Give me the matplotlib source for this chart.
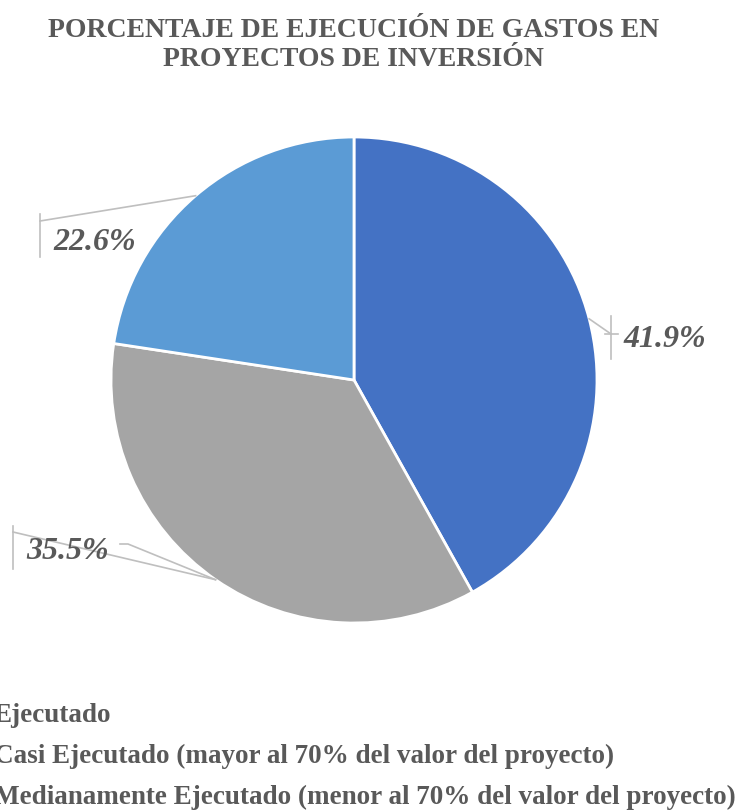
import numpy as np
import matplotlib.pyplot as plt

plt.rcParams['font.family'] = ['Liberation Serif', 'DejaVu Serif']

categories = ['Ejecutado',
              'Casi Ejecutado (mayor al 70% del valor del proyecto)',
              'Medianamente Ejecutado (menor al 70% del valor del proyecto)']
values = [41.9, 35.5, 22.6]
colors = ['#4472C4', '#A5A5A5', '#5B9BD5']
label_txt = ['41.9%', '35.5%', '22.6%']
title = 'PORCENTAJE DE EJECUCIÓN DE GASTOS EN\nPROYECTOS DE INVERSIÓN'

W, H = 747, 812
cx, cy, R = 354, 381, 243   # pie centre and radius in pixels

fig = plt.figure(figsize=(W / 100, H / 100), dpi=100)
ax = fig.add_axes([0, 0, 1, 1])

def px(x, y):
    return (x - cx) / R, (cy - y) / R

wedges, _ = ax.pie(values, colors=colors, startangle=90, counterclock=False,
                   radius=1, wedgeprops=dict(edgecolor='white', linewidth=2))
ax.set_aspect('auto')
ax.set_xlim(-cx / R, (W - cx) / R)
ax.set_ylim((cy - H) / R, cy / R)
ax.axis('off')

grey = '#595959'
lc = '#BFBFBF'
# label centres (px) and bracket x (px), bracket top/bottom (px)
lab_pos = [(665, 340), (68, 552), (95, 242)]
bar_x = [611, 13, 40]
bar_y = [(317, 360), (527, 570), (215, 258)]
join_y = [335, 533, 222]

for w, t, (lx, ly), bx, (by0, by1), jy in zip(wedges, label_txt, lab_pos, bar_x, bar_y, join_y):
    ang = np.deg2rad((w.theta1 + w.theta2) / 2)
    ex, ey = np.cos(ang), np.sin(ang)
    ax.plot(*zip(px(bx, by0), px(bx, by1)), color=lc, lw=1.2)
    ax.plot(*zip(px(bx, jy), (ex, ey)), color=lc, lw=1.2)
    ax.text(*px(lx, ly), t, ha='center', va='center', fontsize=23,
            fontweight='bold', fontstyle='italic', color=grey)

# extra tick on the 41.9% bracket and second leader on 35.5%
ax.plot(*zip(px(605, 335), px(618, 335)), color=lc, lw=1.2)
a2 = np.deg2rad((wedges[1].theta1 + wedges[1].theta2) / 2)
ax.plot(*zip(px(120, 545), px(128, 545), (np.cos(a2), np.sin(a2))), color=lc, lw=1.2)

fig.text(353.5 / W, 1 - 45 / H, title, ha='center', va='center', fontsize=20,
         fontweight='bold', color=grey, linespacing=1.25)

leg = fig.legend(wedges, categories, loc='upper left',
                 bbox_to_anchor=(-63 / W, 1 - 689 / H), frameon=False,
                 prop=dict(size=19.5, weight='bold'), labelcolor=grey,
                 handlelength=1.0, handleheight=0.8, handletextpad=0.6,
                 labelspacing=0.55, borderpad=0)

fig.savefig('out.png', dpi=100)
